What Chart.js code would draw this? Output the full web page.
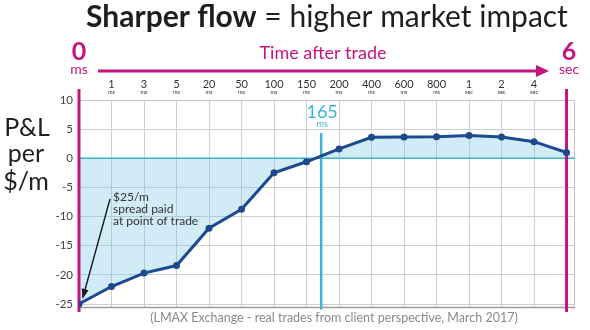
<!DOCTYPE html>
<html>
<head>
<meta charset="utf-8">
<script src="https://cdn.jsdelivr.net/npm/chart.js@4/dist/chart.umd.min.js"></script>
<style>
  html, body { margin: 0; padding: 0; background: #fff; }
  #wrap { width: 590px; height: 330px; }
</style>
</head>
<body>
<div id="wrap"><canvas id="c" width="590" height="330"></canvas></div>
<script>
// Time buckets after the trade (number + unit)
const tickNumbers = ['0', '1', '3', '5', '20', '50', '100', '150', '200', '400', '600', '800', '1', '2', '4', '6'];
const tickUnits   = ['ms', 'ms', 'ms', 'ms', 'ms', 'ms', 'ms', 'ms', 'ms', 'ms', 'ms', 'ms', 'sec', 'sec', 'sec', 'sec'];
const categories  = tickNumbers.map((n, i) => n + ' ' + tickUnits[i]);

// P&L per $/m at each bucket
const pnlValues = [-25, -22.0, -19.7, -18.4, -12.0, -8.75, -2.5, -0.6, 1.6, 3.6, 3.65, 3.7, 3.9, 3.65, 2.85, 1.0];

// Break-even point (between 150 ms and 200 ms buckets)
const breakEvenLabel = '165';
const breakEvenUnit = 'ms';
const breakEvenPosition = 7.45;

const yTicks = [10, 5, 0, -5, -10, -15, -20, -25];

const MAGENTA = '#c4147e';
const CYAN = '#3db3d6';
const NAVY = '#1c4a8e';
const FONT = 'Lato, "Open Sans", sans-serif';

const points = pnlValues.map((v, i) => ({ x: i, y: v }));

const decor = {
  id: 'decor',
  beforeDatasetsDraw(chart) {
    const { ctx, chartArea: a, scales: { x, y } } = chart;
    ctx.save();
    // frame
    ctx.strokeStyle = '#c4c4c4';
    ctx.lineWidth = 1;
    ctx.beginPath();
    ctx.moveTo(a.left, a.top + 0.5); ctx.lineTo(a.right - 0.5, a.top + 0.5);
    ctx.lineTo(a.right - 0.5, a.bottom);
    ctx.stroke();
    ctx.strokeStyle = '#9a9a9a';
    ctx.lineWidth = 1.5;
    ctx.beginPath();
    ctx.moveTo(a.left, a.bottom); ctx.lineTo(a.right, a.bottom);
    ctx.stroke();
    // zero line
    const y0 = y.getPixelForValue(0);
    ctx.strokeStyle = CYAN;
    ctx.lineWidth = 1.5;
    ctx.beginPath();
    ctx.moveTo(a.left, y0); ctx.lineTo(a.right, y0);
    ctx.stroke();
    // break-even marker
    const xb = x.getPixelForValue(breakEvenPosition);
    ctx.lineWidth = 2.5;
    ctx.beginPath();
    ctx.moveTo(xb, 133); ctx.lineTo(xb, a.bottom + 2);
    ctx.stroke();
    ctx.fillStyle = CYAN;
    ctx.textAlign = 'center';
    ctx.textBaseline = 'alphabetic';
    ctx.font = '18px ' + FONT;
    ctx.fillText(breakEvenLabel, xb + 1, 118);
    ctx.font = '9px ' + FONT;
    ctx.fillText(breakEvenUnit, xb + 1, 127);
    // magenta start / end markers
    ctx.strokeStyle = MAGENTA;
    ctx.lineWidth = 3;
    [0, tickNumbers.length - 1].forEach(i => {
      const px = x.getPixelForValue(i);
      ctx.beginPath();
      ctx.moveTo(px, 89); ctx.lineTo(px, 312);
      ctx.stroke();
    });
    ctx.restore();
  },
  afterDraw(chart) {
    const { ctx, chartArea: a, scales: { x, y } } = chart;
    ctx.save();
    ctx.textBaseline = 'alphabetic';

    // title
    const boldPart = 'Sharper flow';
    const restPart = ' = higher market impact';
    ctx.font = 'bold 30px ' + FONT;
    const w1 = ctx.measureText(boldPart).width;
    ctx.font = '30px ' + FONT;
    const w2 = ctx.measureText(restPart).width;
    let tx = 327 - (w1 + w2) / 2;
    ctx.fillStyle = '#1e1e1e';
    ctx.textAlign = 'left';
    ctx.font = 'bold 30px ' + FONT;
    ctx.fillText(boldPart, tx, 27);
    ctx.font = '30px ' + FONT;
    ctx.fillText(restPart, tx + w1, 27);

    // time axis heading and arrow
    ctx.fillStyle = MAGENTA;
    ctx.textAlign = 'center';
    ctx.font = '18px ' + FONT;
    ctx.fillText('Time after trade', 323, 59);
    ctx.strokeStyle = MAGENTA;
    ctx.lineWidth = 3;
    ctx.beginPath();
    ctx.moveTo(98, 71); ctx.lineTo(540, 71);
    ctx.stroke();
    ctx.beginPath();
    ctx.moveTo(549, 71); ctx.lineTo(536, 65); ctx.lineTo(536, 77); ctx.closePath();
    ctx.fill();

    // start and end labels
    const last = tickNumbers.length - 1;
    [[0, 79], [last, 569]].forEach(([i, cx]) => {
      ctx.font = 'bold 25px ' + FONT;
      ctx.fillText(tickNumbers[i], cx, 60);
      ctx.font = '14px ' + FONT;
      ctx.fillText(tickUnits[i], cx, 74);
    });

    // intermediate time labels
    ctx.fillStyle = '#333';
    for (let i = 1; i < last; i++) {
      const px = x.getPixelForValue(i);
      ctx.font = '11px ' + FONT;
      ctx.fillText(tickNumbers[i], px, 88);
      ctx.font = '5.5px ' + FONT;
      ctx.fillText(tickUnits[i], px, 94);
    }

    // y-axis title
    ctx.fillStyle = '#222';
    ctx.font = '25px ' + FONT;
    ctx.fillText('P&L', 27, 136);
    ctx.fillText('per', 26, 162);
    ctx.fillText('$/m', 26, 190);

    // spread annotation
    ctx.textAlign = 'left';
    ctx.fillStyle = '#333';
    ctx.font = '12px ' + FONT;
    ctx.fillText('$25/m', 113, 201);
    ctx.fillText('spread paid', 113, 213);
    ctx.fillText('at point of trade', 113, 225);
    const ax = x.getPixelForValue(0), ay = y.getPixelForValue(pnlValues[0]);
    const sx = 110, sy = 199;
    const ex = ax + 4, ey = ay - 7;
    ctx.strokeStyle = '#1a1a1a';
    ctx.fillStyle = '#1a1a1a';
    ctx.lineWidth = 1.4;
    ctx.beginPath();
    ctx.moveTo(sx, sy); ctx.lineTo(ex, ey);
    ctx.stroke();
    const ang = Math.atan2(ey - sy, ex - sx);
    ctx.beginPath();
    ctx.moveTo(ex + 2 * Math.cos(ang), ey + 2 * Math.sin(ang));
    ctx.lineTo(ex - 8 * Math.cos(ang) + 3.5 * Math.sin(ang), ey - 8 * Math.sin(ang) - 3.5 * Math.cos(ang));
    ctx.lineTo(ex - 8 * Math.cos(ang) - 3.5 * Math.sin(ang), ey - 8 * Math.sin(ang) + 3.5 * Math.cos(ang));
    ctx.closePath();
    ctx.fill();

    // source note
    ctx.textAlign = 'center';
    ctx.fillStyle = '#8a8a8a';
    ctx.font = '12.5px ' + FONT;
    ctx.fillText('(LMAX Exchange - real trades from client perspective, March 2017)', 334, 322);
    ctx.restore();
  }
};

new Chart(document.getElementById('c'), {
  type: 'line',
  data: {
    datasets: [{
      label: 'P&L per $/m',
      data: points,
      borderColor: NAVY,
      borderWidth: 3,
      backgroundColor: 'rgba(120, 196, 232, 0.34)',
      fill: 'origin',
      pointRadius: 3.5,
      pointBackgroundColor: NAVY,
      pointBorderColor: NAVY,
      pointBorderWidth: 0,
      tension: 0
    }]
  },
  options: {
    responsive: false,
    devicePixelRatio: 1,
    animation: false,
    layout: { padding: { left: 0, right: 15, top: 100, bottom: 0 } },
    plugins: {
      legend: { display: false },
      tooltip: { enabled: false },
      filler: { drawTime: 'beforeDatasetsDraw' }
    },
    scales: {
      x: {
        type: 'linear',
        min: 0,
        max: 15.26,
        ticks: { display: false },
        afterBuildTicks: s => { s.ticks = categories.map((c, i) => ({ value: i })); },
        afterFit: s => { s.height = 22.5; },
        grid: { color: '#cfcfcf', lineWidth: 1, drawTicks: false },
        border: { display: false }
      },
      y: {
        min: -25.6,
        max: 10,
        afterBuildTicks: s => { s.ticks = yTicks.map(v => ({ value: v })); },
        afterFit: s => { s.width = 79; },
        ticks: {
          color: '#444',
          font: { family: FONT, size: 11.5 },
          padding: 6
        },
        grid: {
          color: ctx => (ctx.tick && ctx.tick.value === 0) ? 'rgba(0,0,0,0)' : '#cfcfcf',
          lineWidth: 1,
          drawTicks: false
        },
        border: { display: false }
      }
    }
  },
  plugins: [decor]
});
</script>
</body>
</html>
